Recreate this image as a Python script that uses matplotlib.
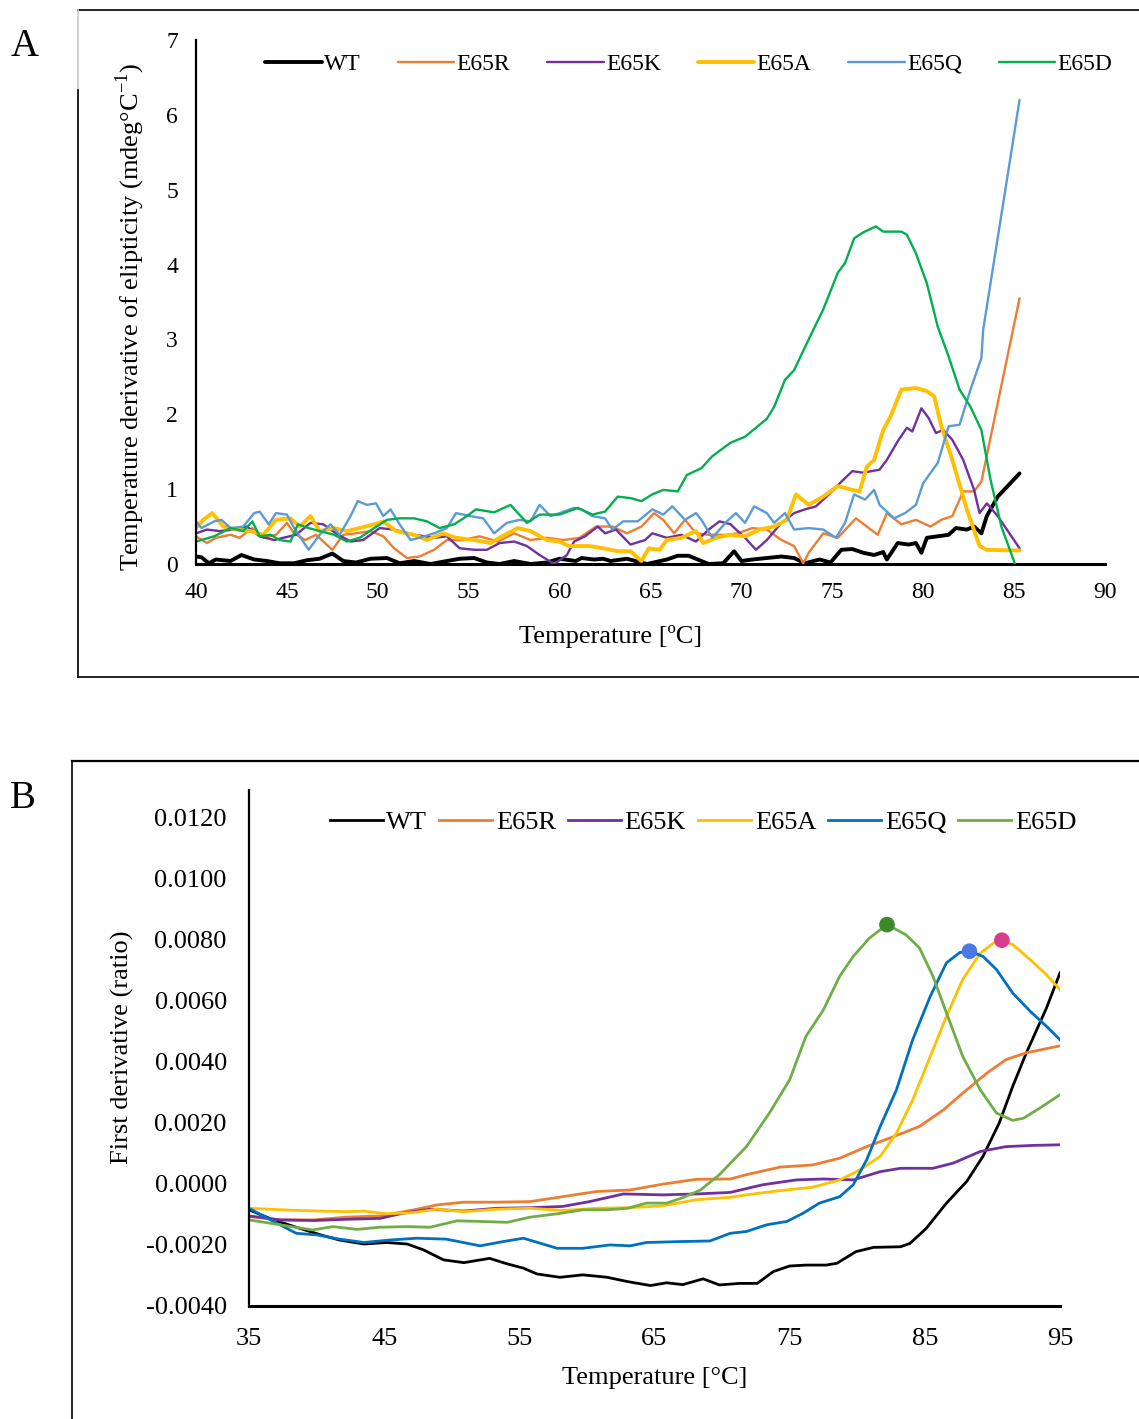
import matplotlib
matplotlib.use('Agg')
import matplotlib.pyplot as plt
from matplotlib.lines import Line2D

plt.rcParams['font.family'] = ['Liberation Serif', 'DejaVu Serif']
plt.rcParams['mathtext.fontset'] = 'custom'
plt.rcParams['mathtext.rm'] = 'Liberation Serif'

# ---------------- panel A data (CD thermal derivative) ----------------
a_wt_t = [40.0, 40.3, 40.7, 41.1, 41.9, 42.5, 43.2, 43.9, 44.6, 45.4, 46.1, 46.8, 47.5, 48.1, 48.8, 49.6,
          50.5, 51.2, 52.0, 52.9, 53.8, 54.5, 55.3, 56.0, 56.7, 57.5, 58.4, 59.3, 60.0, 60.9, 61.2, 61.9,
          62.4, 62.8, 63.7, 64.8, 65.9, 66.5, 67.1, 67.6, 68.2, 69.0, 69.6, 70.0, 70.6, 71.4, 72.2, 72.9,
          73.5, 74.3, 74.9, 75.5, 76.1, 76.7, 77.3, 77.8, 78.0, 78.6, 79.2, 79.6, 79.9, 80.2, 80.8, 81.4,
          81.8, 82.4, 82.8, 83.2, 83.5, 84.1, 85.3]
a_wt_v = [0.10, 0.09, 0.01, 0.06, 0.04, 0.12, 0.06, 0.04, 0.01, 0.01, 0.05, 0.07, 0.14, 0.04, 0.02, 0.07,
          0.08, 0.01, 0.04, 0.00, 0.04, 0.07, 0.08, 0.02, 0.00, 0.04, 0.00, 0.02, 0.07, 0.04, 0.08, 0.06,
          0.07, 0.04, 0.07, 0.00, 0.06, 0.11, 0.11, 0.06, 0.00, 0.01, 0.17, 0.04, 0.06, 0.08, 0.10, 0.08,
          0.01, 0.06, 0.02, 0.19, 0.20, 0.15, 0.12, 0.16, 0.06, 0.28, 0.26, 0.28, 0.15, 0.35, 0.37, 0.39,
          0.48, 0.46, 0.50, 0.41, 0.64, 0.90, 1.21]

a_r_t = [40.0, 40.6, 41.1, 41.9, 42.4, 43.1, 43.7, 44.4, 45.0, 45.4, 46.0, 46.6, 47.5, 48.1, 48.8, 49.6,
         50.3, 50.9, 51.6, 52.3, 53.1, 53.8, 54.7, 55.6, 56.6, 57.5, 58.4, 59.3, 60.2, 61.1, 62.0, 62.9,
         63.7, 64.5, 65.2, 65.7, 66.3, 66.9, 67.5, 68.2, 69.2, 69.8, 70.6, 71.4, 72.2, 72.9, 73.4, 73.7,
         74.5, 75.3, 76.3, 76.9, 77.5, 78.0, 78.8, 79.6, 80.4, 81.0, 81.6, 82.2, 82.8, 83.2, 85.3]
a_r_v = [0.37, 0.28, 0.35, 0.39, 0.35, 0.48, 0.35, 0.39, 0.55, 0.41, 0.32, 0.39, 0.19, 0.39, 0.41, 0.44,
         0.37, 0.21, 0.08, 0.10, 0.19, 0.32, 0.32, 0.37, 0.30, 0.41, 0.32, 0.35, 0.32, 0.35, 0.50, 0.50,
         0.41, 0.50, 0.68, 0.59, 0.41, 0.59, 0.41, 0.39, 0.39, 0.41, 0.48, 0.46, 0.32, 0.24, 0.01, 0.15,
         0.41, 0.35, 0.61, 0.50, 0.39, 0.68, 0.53, 0.59, 0.50, 0.59, 0.64, 0.97, 0.97, 1.10, 3.55]

a_k_t = [40.0, 40.6, 41.3, 42.1, 42.8, 43.5, 44.3, 44.8, 45.5, 46.3, 47.0, 47.7, 48.5, 49.2, 50.1, 50.9,
         52.0, 53.1, 53.8, 54.5, 55.3, 56.0, 56.7, 57.5, 58.2, 58.9, 59.7, 60.4, 60.8, 61.4, 62.1, 62.5,
         63.1, 63.9, 64.7, 65.1, 65.9, 66.7, 67.5, 68.2, 68.8, 69.4, 70.2, 70.8, 71.4, 72.2, 72.9, 73.5,
         74.1, 74.9, 75.5, 76.1, 76.7, 77.6, 78.0, 78.6, 79.1, 79.4, 79.9, 80.3, 80.7, 81.1, 81.6, 82.2,
         82.8, 83.1, 83.5, 84.1, 85.3]
a_k_v = [0.41, 0.46, 0.44, 0.46, 0.50, 0.37, 0.32, 0.35, 0.39, 0.55, 0.53, 0.41, 0.30, 0.32, 0.48, 0.46,
         0.39, 0.35, 0.37, 0.21, 0.19, 0.19, 0.28, 0.30, 0.24, 0.12, 0.00, 0.12, 0.30, 0.37, 0.50, 0.41,
         0.46, 0.26, 0.32, 0.41, 0.35, 0.39, 0.30, 0.46, 0.57, 0.53, 0.35, 0.19, 0.32, 0.55, 0.68, 0.73,
         0.77, 0.95, 1.10, 1.24, 1.22, 1.26, 1.39, 1.64, 1.82, 1.77, 2.08, 1.95, 1.75, 1.79, 1.66, 1.39,
         0.99, 0.68, 0.81, 0.64, 0.21]

a_a_t = [40.0, 40.4, 40.9, 41.5, 42.2, 43.0, 43.7, 44.4, 45.2, 45.7, 46.3, 46.8, 47.6, 48.3, 49.0, 49.8,
         50.3, 51.0, 52.0, 52.7, 53.6, 54.3, 55.3, 56.2, 57.0, 57.7, 58.4, 59.3, 60.0, 60.5, 61.6, 62.4,
         63.2, 63.9, 64.5, 64.9, 65.5, 65.9, 66.7, 67.5, 67.9, 68.6, 69.4, 70.2, 71.0, 71.8, 72.5, 73.0,
         73.7, 74.5, 75.3, 76.1, 76.5, 76.9, 77.3, 77.8, 78.2, 78.8, 79.6, 80.2, 80.6, 81.0, 81.6, 82.4,
         83.1, 83.5, 85.3]
a_a_v = [0.48, 0.59, 0.68, 0.50, 0.46, 0.44, 0.39, 0.59, 0.61, 0.50, 0.64, 0.44, 0.48, 0.44, 0.48, 0.53,
         0.57, 0.44, 0.39, 0.32, 0.41, 0.35, 0.32, 0.28, 0.39, 0.48, 0.44, 0.32, 0.30, 0.24, 0.24, 0.21,
         0.17, 0.17, 0.04, 0.21, 0.19, 0.32, 0.35, 0.44, 0.28, 0.35, 0.39, 0.37, 0.46, 0.50, 0.59, 0.93,
         0.79, 0.90, 1.04, 0.99, 0.97, 1.30, 1.39, 1.79, 1.97, 2.33, 2.35, 2.31, 2.24, 1.84, 1.39, 0.73,
         0.24, 0.19, 0.18]

a_q_t = [40.0, 40.3, 41.0, 41.4, 41.9, 42.6, 43.2, 43.5, 44.0, 44.4, 45.0, 45.4, 46.2, 46.8, 47.4, 47.9,
         48.5, 48.9, 49.4, 49.9, 50.3, 50.7, 51.2, 51.8, 52.3, 53.1, 53.8, 54.3, 55.1, 55.8, 56.4, 57.1,
         57.8, 58.4, 58.9, 59.5, 60.0, 60.8, 61.2, 61.8, 62.5, 62.9, 63.5, 64.3, 65.1, 65.7, 66.2, 66.9,
         67.5, 67.8, 68.4, 69.2, 69.7, 70.2, 70.7, 71.4, 71.8, 72.4, 72.9, 73.7, 74.5, 75.2, 75.7, 76.2,
         76.8, 77.3, 77.6, 78.4, 79.0, 79.6, 80.0, 80.8, 81.4, 82.0, 82.6, 83.2, 83.3, 85.3]
a_q_v = [0.57, 0.48, 0.57, 0.59, 0.48, 0.50, 0.68, 0.70, 0.53, 0.68, 0.66, 0.48, 0.19, 0.39, 0.53, 0.39,
         0.64, 0.84, 0.79, 0.81, 0.64, 0.73, 0.53, 0.32, 0.35, 0.41, 0.48, 0.68, 0.64, 0.61, 0.41, 0.55,
         0.59, 0.57, 0.79, 0.64, 0.68, 0.75, 0.73, 0.64, 0.61, 0.46, 0.57, 0.57, 0.73, 0.66, 0.77, 0.59,
         0.68, 0.59, 0.35, 0.57, 0.68, 0.55, 0.77, 0.68, 0.55, 0.68, 0.46, 0.48, 0.46, 0.35, 0.55, 0.93,
         0.86, 0.99, 0.79, 0.61, 0.68, 0.79, 1.08, 1.35, 1.84, 1.86, 2.33, 2.75, 3.13, 6.20]

a_d_t = [40.0, 41.0, 41.9, 42.6, 43.1, 43.5, 44.1, 44.6, 45.2, 45.6, 46.2, 46.8, 47.6, 48.3, 49.0, 49.8,
         50.5, 51.2, 52.0, 52.7, 53.4, 54.2, 54.9, 55.4, 56.4, 57.3, 58.2, 58.9, 60.0, 61.0, 61.8, 62.5,
         63.2, 63.9, 64.5, 65.1, 65.7, 66.5, 67.0, 67.8, 68.4, 69.4, 70.2, 70.8, 71.4, 71.8, 72.4, 72.9,
         73.7, 74.5, 75.3, 75.7, 76.2, 76.7, 77.4, 77.8, 78.8, 79.1, 79.6, 80.2, 80.8, 81.4, 82.0, 82.6,
         83.2, 83.7, 84.3, 85.05]
a_d_v = [0.30, 0.37, 0.48, 0.44, 0.57, 0.37, 0.39, 0.32, 0.30, 0.53, 0.48, 0.44, 0.39, 0.30, 0.35, 0.48,
         0.59, 0.61, 0.61, 0.57, 0.48, 0.53, 0.64, 0.73, 0.69, 0.79, 0.55, 0.66, 0.66, 0.75, 0.66, 0.70,
         0.90, 0.88, 0.84, 0.93, 0.99, 0.97, 1.19, 1.28, 1.44, 1.62, 1.70, 1.82, 1.94, 2.10, 2.46, 2.59,
         3.00, 3.40, 3.89, 4.02, 4.35, 4.43, 4.51, 4.44, 4.44, 4.40, 4.15, 3.75, 3.17, 2.77, 2.33, 2.10,
         1.79, 1.13, 0.50, 0.00]

# ---------------- panel B data (first derivative of ratio) ----------------
b_wt_t = [35.0, 36.8, 38.5, 40.3, 41.7, 43.5, 45.2, 46.7, 47.9, 49.4, 50.9, 52.8, 54.1, 55.3, 56.3, 58.0,
          59.7, 61.5, 63.0, 64.7, 65.9, 67.1, 68.6, 69.8, 71.3, 72.6, 73.8, 75.0, 76.2, 77.7, 78.5, 79.9,
          81.2, 83.2, 83.9, 85.1, 86.6, 88.1, 89.3, 90.5, 91.5, 92.5, 94.0, 95.0]
b_wt_v = [-0.00085, -0.00118, -0.00142, -0.00167, -0.00184, -0.00197, -0.00192, -0.00197, -0.00216,
          -0.00249, -0.00258, -0.00244, -0.00262, -0.00276, -0.00295, -0.00306, -0.00298, -0.00306,
          -0.00320, -0.00333, -0.00324, -0.00330, -0.00311, -0.00331, -0.00326, -0.00326, -0.00287,
          -0.00269, -0.00266, -0.00266, -0.00260, -0.00222, -0.00208, -0.00206, -0.00195, -0.00146,
          -0.00063, 0.00008, 0.00090, 0.00199, 0.00319, 0.00428, 0.00576, 0.00691]

b_r_t = [35.0, 37.3, 39.8, 42.2, 44.7, 47.2, 48.9, 50.9, 53.3, 55.8, 58.2, 60.7, 63.2, 65.6, 68.1, 70.6,
         71.8, 74.3, 76.7, 78.7, 80.7, 82.7, 84.6, 86.4, 87.8, 89.6, 91.0, 92.5, 94.0, 95.0]
b_r_v = [-0.00107, -0.00118, -0.00118, -0.00109, -0.00105, -0.00085, -0.00069, -0.00060, -0.00060,
         -0.00058, -0.00042, -0.00025, -0.00020, -0.00001, 0.00015, 0.00016, 0.00030, 0.00055, 0.00062,
         0.00084, 0.00122, 0.00155, 0.00188, 0.00243, 0.00297, 0.00363, 0.00407, 0.00429, 0.00443, 0.00452]

b_k_t = [35.0, 37.3, 39.8, 42.2, 44.7, 46.4, 48.4, 50.9, 53.3, 55.8, 58.2, 60.2, 62.7, 65.6, 68.1, 70.6,
         73.0, 75.5, 77.5, 79.7, 81.7, 83.2, 85.6, 87.1, 89.1, 91.0, 93.0, 95.0]
b_k_v = [-0.00105, -0.00118, -0.00120, -0.00116, -0.00113, -0.00096, -0.00083, -0.00089, -0.00080,
         -0.00078, -0.00074, -0.00058, -0.00033, -0.00036, -0.00033, -0.00028, -0.00003, 0.00013, 0.00016,
         0.00013, 0.00040, 0.00051, 0.00051, 0.00068, 0.00106, 0.00122, 0.00126, 0.00128]

b_a_t = [35.0, 38.5, 42.2, 43.5, 45.2, 47.2, 48.9, 50.9, 53.3, 55.8, 58.2, 60.7, 63.2, 65.6, 68.1, 70.6,
         71.8, 74.3, 76.7, 78.7, 80.2, 81.7, 82.9, 84.1, 85.4, 86.6, 87.8, 89.1, 90.1, 90.7, 91.5, 92.8,
         94.0, 95.0]
b_a_v = [-0.00080, -0.00087, -0.00091, -0.00089, -0.00098, -0.00094, -0.00083, -0.00091, -0.00083,
         -0.00080, -0.00087, -0.00080, -0.00078, -0.00072, -0.00052, -0.00044, -0.00036, -0.00022,
         -0.00011, 0.00013, 0.00046, 0.00090, 0.00166, 0.00275, 0.00417, 0.00549, 0.00669, 0.00756,
         0.00789, 0.00798, 0.00784, 0.00734, 0.00685, 0.00636]

b_q_t = [35.0, 36.6, 38.5, 40.0, 41.7, 43.5, 45.4, 47.4, 49.6, 52.1, 53.8, 55.3, 57.8, 59.7, 61.7, 63.2,
         64.4, 66.9, 69.1, 70.6, 71.8, 73.3, 74.8, 76.0, 77.2, 78.7, 79.7, 80.7, 81.7, 82.9, 84.1, 85.4,
         86.6, 87.6, 88.3, 89.3, 90.3, 91.5, 92.8, 94.0, 95.0]
b_q_v = [-0.00080, -0.00118, -0.00162, -0.00167, -0.00181, -0.00192, -0.00184, -0.00178, -0.00181,
         -0.00203, -0.00189, -0.00178, -0.00211, -0.00211, -0.00200, -0.00203, -0.00192, -0.00189,
         -0.00187, -0.00162, -0.00156, -0.00134, -0.00123, -0.00096, -0.00063, -0.00042, -0.00003,
         0.00079, 0.00188, 0.00308, 0.00472, 0.00614, 0.00724, 0.00758, 0.00762, 0.00745, 0.00702,
         0.00625, 0.00565, 0.00516, 0.00472]

b_d_t = [35.0, 37.3, 39.7, 41.2, 43.0, 44.7, 46.7, 48.4, 50.4, 52.1, 54.1, 55.8, 57.8, 59.7, 61.5, 63.0,
         64.4, 65.9, 67.1, 68.4, 69.8, 71.8, 73.5, 75.0, 76.2, 77.5, 78.7, 79.7, 80.9, 82.2, 83.6, 84.6,
         85.6, 86.6, 87.8, 89.1, 90.3, 91.5, 92.3, 93.5, 95.0]
b_d_v = [-0.00118, -0.00134, -0.00151, -0.00140, -0.00149, -0.00142, -0.00140, -0.00142, -0.00121,
         -0.00123, -0.00126, -0.00109, -0.00098, -0.00085, -0.00085, -0.00080, -0.00063, -0.00063,
         -0.00045, -0.00020, 0.00030, 0.00122, 0.00232, 0.00341, 0.00483, 0.00570, 0.00680, 0.00745,
         0.00805, 0.00849, 0.00816, 0.00773, 0.00680, 0.00560, 0.00418, 0.00308, 0.00232, 0.00208,
         0.00215, 0.00248, 0.00292]

peak_t = [82.2, 88.3, 90.7]
peak_v = [0.00849, 0.00762, 0.00798]
peak_colors = ['#3a8a28', '#4a78e6', '#d83c8c']

names = ['WT', 'E65R', 'E65K', 'E65A', 'E65Q', 'E65D']
a_xticks = [40, 45, 50, 55, 60, 65, 70, 75, 80, 85, 90]
a_yticks = [0, 1, 2, 3, 4, 5, 6, 7]
b_xticks = [35, 45, 55, 65, 75, 85, 95]
b_yticks = [-0.004, -0.002, 0.0, 0.002, 0.004, 0.006, 0.008, 0.010, 0.012]

W, H = 1139, 1419
def fx(x):
    return x / W
def fy(y):
    return 1 - y / H

fig = plt.figure(figsize=(W / 100, H / 100), dpi=100)
fig.set_facecolor('white')

# frames around the two panels
def fline(xs, ys, color='black', lw=1.2):
    fig.add_artist(Line2D([fx(x) for x in xs], [fy(y) for y in ys], color=color, lw=lw,
                          transform=fig.transFigure))

fline([78, W], [10, 10])
fline([78, 78], [10, 90], color='#c8c8c8')
fline([78, 78], [90, 677])
fline([78, W], [677, 677])
fline([72, W], [761, 761], lw=1.6)
fline([72, 72], [761, H], lw=1.2)

fig.text(fx(25), fy(47), 'A', fontsize=28, ha='center', va='center')
fig.text(fx(23), fy(798), 'B', fontsize=28, ha='center', va='center')

# ---------------- panel A ----------------
axA = fig.add_axes([fx(196), fy(564), (1105 - 196) / W, (564 - 40) / H])
colA = ['#000000', '#ED7D31', '#7030A0', '#FFC000', '#5B9BD5', '#00B050']
lwA = [2.8, 1.7, 1.7, 2.8, 1.7, 1.7]
dataA = [(a_wt_t, a_wt_v), (a_r_t, a_r_v), (a_k_t, a_k_v), (a_a_t, a_a_v), (a_q_t, a_q_v), (a_d_t, a_d_v)]
order = [1, 2, 4, 5, 3, 0]
lines = {}
for i in order:
    t, v = dataA[i]
    lines[i], = axA.plot(t, v, color=colA[i], lw=lwA[i], label=names[i], solid_capstyle='round', zorder=2 + i * 0.1)
axA.set_xlim(40, 90)
axA.set_ylim(0, 7)
axA.set_xticks(a_xticks)
axA.set_yticks(a_yticks)
axA.tick_params(length=0, labelsize=17)
axA.tick_params(axis='x', pad=13)
axA.tick_params(axis='y', pad=13)
for s in ['top', 'right']:
    axA.spines[s].set_visible(False)
axA.spines['left'].set_linewidth(1.6)
axA.spines['bottom'].set_linewidth(2.2)
axA.spines['bottom'].set_zorder(1)
axA.patch.set_alpha(0)
fig.legend([lines[i] for i in range(6)], names, loc='center', bbox_to_anchor=(fx(689), fy(64)),
           ncol=6, frameon=False, fontsize=17, handlelength=2.4, handletextpad=0.1, columnspacing=1.55)
fig.text(fx(611), fy(636), 'Temperature [ºC]', fontsize=19, ha='center', va='center')
fig.text(fx(130), fy(317), 'Temperature derivative of elipticity (mdeg°C$^{\\mathregular{-1}}$)',
         fontsize=19, ha='center', va='center', rotation=90)

# ---------------- panel B ----------------
axB = fig.add_axes([fx(249), fy(1306), (1060 - 249) / W, (1306 - 790) / H])
colB = ['#000000', '#ED7D31', '#7030A0', '#FFC000', '#0070C0', '#70AD47']
dataB = [(b_wt_t, b_wt_v), (b_r_t, b_r_v), (b_k_t, b_k_v), (b_a_t, b_a_v), (b_q_t, b_q_v), (b_d_t, b_d_v)]
linesB = []
for i, (t, v) in enumerate(dataB):
    ln, = axB.plot(t, v, color=colB[i], lw=2.0, label=names[i])
    linesB.append(ln)
axB.scatter(peak_t, peak_v, s=105, c=peak_colors, zorder=5)
axB.set_xlim(35, 95)
axB.set_ylim(-0.004, 0.0129)
axB.set_xticks(b_xticks)
axB.set_yticks(b_yticks)
axB.set_yticklabels(['%.4f' % y for y in b_yticks])
axB.tick_params(length=0, labelsize=19)
axB.tick_params(axis='x', pad=16)
axB.tick_params(axis='y', pad=16)
for s in ['top', 'right']:
    axB.spines[s].set_visible(False)
axB.spines['left'].set_linewidth(1.6)
axB.spines['bottom'].set_linewidth(2.2)
fig.legend(linesB, names, loc='center', bbox_to_anchor=(fx(703), fy(822)), ncol=6, frameon=False,
           fontsize=19, handlelength=2.0, handletextpad=0.15, columnspacing=0.45)
fig.text(fx(655), fy(1378), 'Temperature [°C]', fontsize=19, ha='center', va='center')
fig.text(fx(122), fy(1047), 'First derivative (ratio)', fontsize=19, ha='center', va='center', rotation=90)

fig.savefig('out.png', dpi=100, facecolor='white')
